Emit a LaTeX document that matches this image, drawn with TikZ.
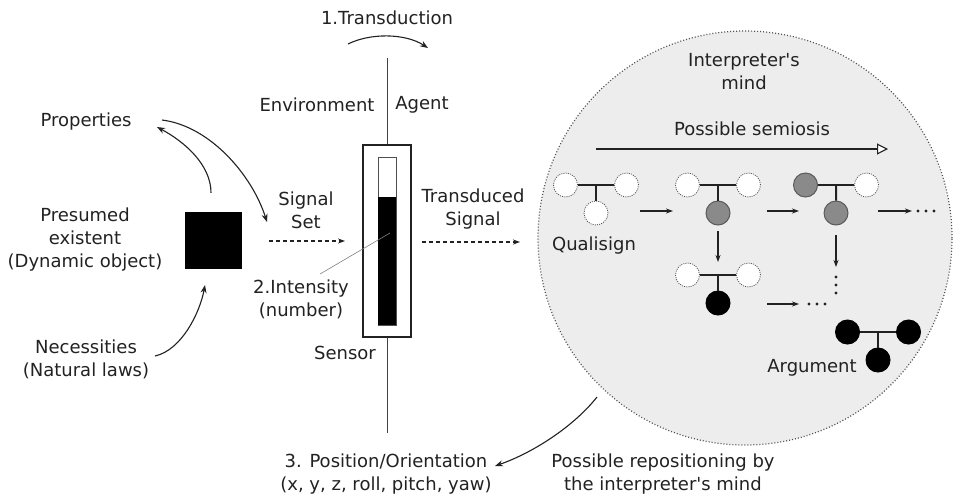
\documentclass[tikz,border=0pt]{standalone}
\usepackage{fontspec}
\setmainfont{DejaVu Sans}
\usetikzlibrary{arrows.meta,calc}
\definecolor{ink}{HTML}{222222}
\definecolor{mindfill}{HTML}{EDEDED}
\definecolor{dotline}{HTML}{505050}
\definecolor{midgray}{HTML}{8A8A8A}
\definecolor{rimgray}{HTML}{5A5A5A}

% one sign of the semiosis chain: two upper circles joined by a bar, one circle below
\newcommand\SemSign[6]{%
  \node[#4] (#1l) at (#2-30.5,#3) {};
  \node[#5] (#1r) at (#2+30.5,#3) {};
  \node[#6] (#1b) at (#2,#3+28) {};
  \draw[signbar] (#1l.east) -- (#1r.west) coordinate[midway] (#1m);
  \draw[signbar] (#1m) -- (#1b.north);
}
% three small dots in a row
\newcommand\DotRow[4]{%
  \foreach \k in {0,1,2} {\fill[ink] ($(#1)+(\k*#3,\k*#4)$) circle (1.7);}
  \coordinate (#2) at (#1);
}

\begin{document}
\begin{tikzpicture}[x=1pt,y=-1pt,
  txt/.style={text=ink, font=\fontsize{18}{23}\selectfont, align=center, inner sep=0pt},
  arr/.style={draw=ink, line width=1.1pt, -{Stealth[length=8pt,width=6pt]}},
  smallarr/.style={draw=ink, line width=1.1pt, -{Stealth[length=7pt,width=5pt]}},
  dasharr/.style={draw=ink, line width=1.1pt, dash pattern=on 4pt off 3pt, -{Stealth[length=7pt,width=5pt]}},
  signbar/.style={draw=ink, line width=2pt},
  emptyc/.style={circle, minimum size=24pt, inner sep=0pt, fill=white, draw=dotline, line width=0.8pt, dash pattern=on 1pt off 1.2pt},
  grayc/.style={circle, minimum size=24pt, inner sep=0pt, fill=midgray, draw=rimgray, line width=1pt},
  blackc/.style={circle, minimum size=24pt, inner sep=0pt, fill=black, draw=black, line width=1pt},
  senseline/.style={draw=ink!85, line width=1pt}
]
\fill[white] (0,0) rectangle (953,499);
\useasboundingbox (0,0) rectangle (953,499);

% ---------- interpreter's mind ----------
\node[circle, minimum size=414pt, inner sep=0pt, fill=mindfill, draw=dotline,
      line width=1.2pt, dash pattern=on 1pt off 2pt] (mind) at (745,238) {};
\node[txt] (mindlbl) at (744,72) {Interpreter\textquotesingle s\\mind};
\node[txt] (semlbl) at (752,129) {Possible semiosis};
\coordinate (semA) at (596,149);
\coordinate (semB) at (888,149);
\draw[draw=ink, line width=1.2pt, -{Triangle[length=11pt,width=11pt,fill=white,line width=1.1pt]}] (semA) -- (semB);

\SemSign{sa}{596}{185}{emptyc}{emptyc}{emptyc}
\SemSign{sb}{718}{185}{emptyc}{emptyc}{grayc}
\SemSign{sc}{836}{185}{grayc}{emptyc}{grayc}
\SemSign{sd}{718}{275}{emptyc}{emptyc}{blackc}
\SemSign{se}{878}{332}{blackc}{blackc}{blackc}

\node[txt] (quali) at (594,246) {Qualisign};
\node[txt] (argu) at (812,368) {Argument};

\draw[smallarr] ($(sab)+(44,-2)$) -- ($(sbb)+(-45,-2)$);
\draw[smallarr] ($(sbb)+(49,-2)$) -- ($(scb)+(-37,-2)$);
\draw[smallarr] ($(scb)+(42,-2)$) -- ($(scb)+(76,-2)$);
\DotRow{$(scb)+(82,-2)$}{dotsA}{8}{0}
\draw[smallarr] ($(sbb)+(0,18)$) -- ($(sdl)+(30.5,-13)$);
\draw[smallarr] ($(sdb)+(49,1)$) -- ($(sdb)+(81,1)$);
\DotRow{$(sdb)+(91,1)$}{dotsB}{8}{0}
\draw[smallarr] ($(scb)+(0,22)$) -- ($(scb)+(0,54)$);
\DotRow{$(scb)+(0,64)$}{dotsC}{0}{8}

% ---------- sensor ----------
\coordinate (stemtop) at (387,58);
\coordinate (stembot) at (387,433);
\draw[senseline] (stemtop) -- (stembot);
\node[draw=ink, fill=white, line width=1.2pt, minimum width=48pt, minimum height=192pt, inner sep=0pt] (sensor) at (387,241) {};
\node[draw=ink!80, fill=white, line width=0.8pt, minimum width=18pt, minimum height=168pt, inner sep=0pt] (gauge) at (387,241) {};
\node[fill=black, minimum width=18pt, minimum height=128pt, inner sep=0pt] (level) at (387,261) {};

\node[txt] (transd) at (387,18) {1.Transduction};
\draw[arr] (348,44) .. controls (370,33) and (405,33) .. (428,48);
\node[txt] (env) at (317,105) {Environment};
\node[txt] (agent) at (422,105) {Agent};
\node[txt] (sensorlbl) at (345,353) {Sensor};

\node[txt] (intens) at (301,299) {2.Intensity\\(number)};
\coordinate (ptr) at (390,233);
\draw[gray, line width=0.6pt] (320,274) -- (ptr);

% ---------- object side ----------
\node[fill=black, minimum size=57pt, inner sep=0pt] (obj) at (213.5,240.5) {};
\node[txt] (presumed) at (85,240) {Presumed\\existent\\(Dynamic object)};
\node[txt] (props) at (86,122) {Properties};
\node[txt] (necess) at (86,359) {Necessities\\(Natural laws)};

\draw[arr] (obj.north -| 211,0) ++(0,-19) coordinate (objup) .. controls (211,165) and (185,142) .. (157,127);
\draw[arr] (162,120) .. controls (210,126) and (252,175) .. (267,222);
\draw[arr] (155,356) .. controls (182,350) and (200,312) .. (205,285);

\node[txt] (sigset) at (306,210) {Signal\\Set};
\draw[dasharr] (269,241) -- (345,241);
\node[txt] (tsig) at (473,209) {Transduced\\Signal};
\draw[dasharr] (422,242) -- (520,242);

% ---------- repositioning ----------
\node[txt] (pose) at (386,474) {3. Position/Orientation\\(x, y, z, roll, pitch, yaw)};
\node[txt] (repos) at (663,474) {Possible repositioning by\\the interpreter\textquotesingle s mind};
\draw[arr] (597,397) .. controls (575,425) and (535,452) .. (495,466);
\end{tikzpicture}
\end{document}
